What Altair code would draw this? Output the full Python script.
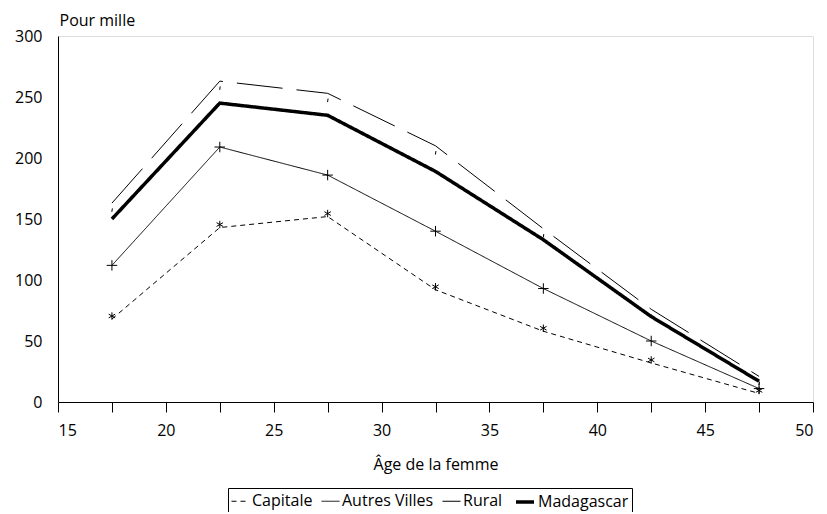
import altair as alt
import pandas as pd

ages = [17.5, 22.5, 27.5, 32.5, 37.5, 42.5, 47.5]
series = ["Capitale", "Autres Villes", "Rural", "Madagascar"]
capitale = [68, 143, 152, 92, 58, 32, 7]
autres_villes = [112, 209, 186, 140, 93, 50, 11]
rural = [163, 263, 253, 210, 142, 76, 21]
madagascar = [150, 245, 235, 189, 133, 70, 17]
x_ticks = [15, 17.5, 20, 22.5, 25, 27.5, 30, 32.5, 35, 37.5, 40, 42.5, 45, 47.5, 50]
y_ticks = [0, 50, 100, 150, 200, 250, 300]

values = {"Capitale": capitale, "Autres Villes": autres_villes,
          "Rural": rural, "Madagascar": madagascar}
rows = []
for s in series:
    for a, v in zip(ages, values[s]):
        rows.append({"age": a, "val": v, "serie": s})
df = pd.DataFrame(rows)

FONT = "Open Sans"
FS = 16

x = alt.X("age:Q", scale=alt.Scale(domain=[15, 50], nice=False),
          axis=alt.Axis(values=x_ticks, labelExpr="datum.value % 5 == 0 ? datum.label : ''",
                        title="Âge de la femme", grid=False, tickSize=10, labelPadding=10,
                        titlePadding=18, domainColor="black", tickColor="black",
                        labelFontSize=FS, titleFontSize=FS, titleFontWeight="normal",
                        labelColor="black", titleColor="black", labelFont=FONT, titleFont=FONT))
y = alt.Y("val:Q", scale=alt.Scale(domain=[0, 300], nice=False),
          axis=alt.Axis(values=y_ticks, title="Pour mille", titleAngle=0, titleAlign="left",
                        titleBaseline="alphabetic", titleX=1, titleY=-11, ticks=False,
                        labelPadding=16, grid=False, domainColor="black",
                        labelFontSize=FS, titleFontSize=FS, titleFontWeight="normal",
                        labelColor="black", titleColor="black", labelFont=FONT, titleFont=FONT))

leg = alt.Legend(title=None, orient="none", legendX=170, legendY=452, direction="horizontal",
                 symbolType="stroke", symbolStrokeColor="black", symbolSize=324,
                 strokeColor="black", padding=3, labelFontSize=FS,
                 labelFont=FONT, labelColor="black", columnPadding=6,
                 symbolOffset=0, labelOffset=2)

lines = alt.Chart(df).mark_line(color="black").encode(
    x=x, y=y,
    strokeDash=alt.StrokeDash("serie:N",
        scale=alt.Scale(domain=series, range=[[5, 4], [1, 0], [46, 14], [1, 0]]),
        legend=leg),
    strokeWidth=alt.StrokeWidth("serie:N",
        scale=alt.Scale(type="ordinal", domain=series, range=[1, 1, 1, 3.5]), legend=leg),
    detail="serie:N",
)

star = "M0,-1L0,1M-0.87,-0.5L0.87,0.5M-0.87,0.5L0.87,-0.5"
plus = "M-1,0L1,0M0,-1L0,1"
tick = "M0.25,-1L-0.05,1"


def markers(name, shape, size, dy):
    return alt.Chart(df[df.serie == name]).mark_point(
        color="black", filled=False, strokeWidth=1, opacity=1,
        shape=shape, size=size, yOffset=dy
    ).encode(x="age:Q", y="val:Q")


chart = alt.layer(
    lines,
    markers("Capitale", star, 55, -3),
    markers("Autres Villes", plus, 110, 0),
    markers("Rural", tick, 12, 7),
).properties(
    width=755, height=366,
    autosize=alt.AutoSizeParams(type="none"),
    padding={"left": 50, "top": 28, "right": 6, "bottom": 110},
).configure_view(stroke="black", strokeWidth=1).configure(font=FONT)

chart.save("out.html", embed_options={"renderer": "svg", "actions": False})
